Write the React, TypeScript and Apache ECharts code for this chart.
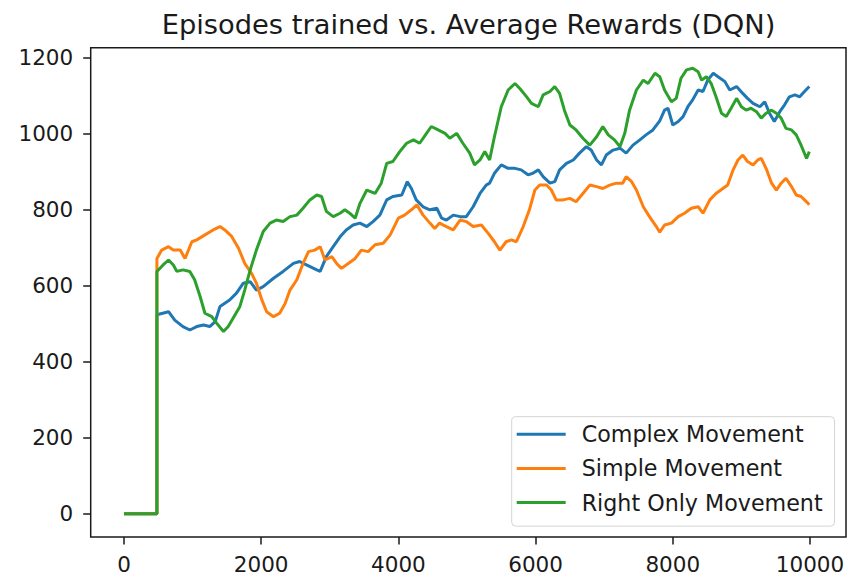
import React, { useEffect, useRef } from "react";
import * as echarts from "echarts";

const titleText = "Episodes trained vs. Average Rewards (DQN)";
const seriesNames = ["Complex Movement", "Simple Movement", "Right Only Movement"];
const xTickValues = [0, 2000, 4000, 6000, 8000, 10000];
const yTickValues = [0, 200, 400, 600, 800, 1000, 1200];

const complexMovement: [number, number][] = [
  [0, 0], [480, 0], [480, 523], [650, 531], [740, 509], [860, 492], [960, 483], [1060, 492],
  [1160, 496], [1250, 492], [1330, 505], [1400, 545], [1540, 562], [1640, 580], [1740, 606],
  [1840, 610], [1930, 588], [2030, 597], [2180, 619], [2320, 637], [2470, 658], [2560, 663],
  [2660, 654], [2810, 641], [2860, 637], [2950, 676], [3050, 702], [3150, 728], [3240, 746],
  [3340, 759], [3440, 764], [3540, 755], [3630, 768], [3730, 785], [3830, 825], [3920, 834],
  [4050, 838], [4130, 873], [4190, 855], [4260, 825], [4360, 807], [4460, 799], [4560, 803],
  [4630, 777], [4700, 772], [4800, 785], [4900, 781], [4990, 781], [5090, 807], [5190, 842],
  [5280, 864], [5330, 869], [5400, 895], [5500, 917], [5600, 908], [5700, 908], [5790, 904],
  [5890, 891], [5960, 895], [6040, 904], [6110, 886], [6210, 869], [6280, 873], [6350, 904],
  [6450, 921], [6550, 930], [6640, 948], [6740, 965], [6810, 956], [6890, 930], [6960, 917],
  [7030, 943], [7130, 956], [7230, 961], [7320, 948], [7420, 969], [7520, 983], [7610, 996],
  [7710, 1009], [7810, 1033], [7880, 1061], [7930, 1066], [8000, 1022], [8080, 1031],
  [8150, 1044], [8220, 1070], [8290, 1088], [8370, 1114], [8440, 1110], [8510, 1140],
  [8590, 1158], [8660, 1149], [8760, 1136], [8830, 1114], [8930, 1123], [9020, 1105],
  [9090, 1092], [9170, 1079], [9270, 1070], [9340, 1083], [9410, 1053], [9480, 1031],
  [9560, 1057], [9630, 1075], [9700, 1096], [9780, 1101], [9850, 1096], [9920, 1110], [9990, 1123],
];

const simpleMovement: [number, number][] = [
  [0, 0], [480, 0], [480, 671], [550, 693], [650, 702], [720, 693], [820, 693], [890, 671],
  [990, 715], [1060, 720], [1180, 733], [1300, 746], [1400, 755], [1470, 746], [1570, 729],
  [1670, 698], [1760, 658], [1860, 632], [1930, 606], [2010, 562], [2080, 531], [2180, 518],
  [2270, 527], [2350, 553], [2420, 588], [2520, 615], [2610, 658], [2690, 689], [2780, 693],
  [2860, 702], [2930, 667], [3030, 676], [3100, 658], [3170, 645], [3270, 658], [3370, 671],
  [3460, 693], [3560, 689], [3660, 707], [3780, 711], [3880, 733], [4000, 777], [4090, 785],
  [4190, 799], [4270, 812], [4360, 785], [4460, 764], [4530, 750], [4600, 764], [4700, 755],
  [4800, 746], [4900, 772], [4990, 768], [5090, 755], [5210, 759], [5310, 737], [5400, 715],
  [5480, 693], [5570, 715], [5650, 720], [5720, 715], [5820, 755], [5910, 799], [5990, 851],
  [6060, 864], [6160, 864], [6230, 851], [6300, 825], [6400, 825], [6500, 829], [6590, 820],
  [6690, 842], [6790, 864], [6890, 860], [6980, 855], [7080, 864], [7180, 869], [7270, 869],
  [7320, 886], [7400, 873], [7470, 851], [7570, 807], [7660, 781], [7760, 755], [7810, 740],
  [7880, 759], [7980, 764], [8080, 781], [8170, 790], [8270, 803], [8370, 807], [8440, 790],
  [8540, 825], [8630, 842], [8730, 855], [8800, 864], [8880, 904], [8950, 930], [9020, 943],
  [9090, 926], [9170, 917], [9240, 930], [9290, 934], [9360, 908], [9440, 869], [9510, 851],
  [9580, 869], [9650, 882], [9730, 860], [9800, 838], [9870, 834], [9950, 820], [9990, 812],
];

const rightOnlyMovement: [number, number][] = [
  [0, 0], [480, 0], [480, 637], [570, 654], [650, 667], [720, 654], [770, 637], [860, 641],
  [960, 637], [1030, 615], [1110, 571], [1180, 527], [1280, 518], [1350, 501], [1450, 479],
  [1520, 492], [1590, 514], [1690, 545], [1760, 588], [1840, 641], [1930, 693], [2030, 742],
  [2130, 764], [2220, 772], [2320, 768], [2420, 781], [2520, 785], [2610, 803], [2710, 825],
  [2810, 838], [2880, 834], [2950, 795], [3050, 781], [3150, 790], [3220, 799], [3290, 790],
  [3370, 777], [3440, 816], [3540, 851], [3660, 842], [3750, 869], [3830, 921], [3920, 926],
  [4020, 952], [4120, 974], [4220, 983], [4310, 974], [4410, 1000], [4480, 1018], [4580, 1009],
  [4680, 1000], [4750, 987], [4850, 1000], [4940, 974], [5040, 948], [5110, 917], [5190, 930],
  [5260, 952], [5330, 930], [5400, 991], [5500, 1070], [5600, 1114], [5700, 1131], [5770, 1118],
  [5870, 1096], [5940, 1079], [6040, 1070], [6110, 1101], [6210, 1110], [6280, 1123], [6350, 1105],
  [6420, 1061], [6500, 1022], [6590, 1009], [6690, 987], [6790, 969], [6890, 991], [6980, 1018],
  [7060, 996], [7150, 983], [7230, 965], [7300, 1000], [7370, 1061], [7470, 1114], [7570, 1140],
  [7640, 1131], [7740, 1158], [7810, 1149], [7880, 1114], [7980, 1083], [8050, 1092], [8120, 1145],
  [8200, 1167], [8290, 1171], [8370, 1162], [8420, 1140], [8490, 1149], [8560, 1131], [8630, 1096],
  [8710, 1053], [8780, 1044], [8850, 1066], [8930, 1092], [9000, 1070], [9070, 1061], [9140, 1066],
  [9220, 1057], [9290, 1040], [9360, 1053], [9440, 1061], [9510, 1053], [9580, 1040], [9650, 1013],
  [9730, 1009], [9800, 996], [9870, 969], [9950, 934], [9990, 952],
];

const colors = ["#1f77b4", "#ff7f0e", "#2ca02c"];
const FONT = "DejaVu Sans";
const INK = "#1a1a1a";

export default function App() {
  const ref = useRef<HTMLDivElement>(null);

  useEffect(() => {
    if (!ref.current) return;
    const chart = echarts.init(ref.current, null, { renderer: "svg" });
    const seriesData = [complexMovement, simpleMovement, rightOnlyMovement];
    const plain = (v: number) => String(v);
    chart.setOption({
      animation: false,
      backgroundColor: "#ffffff",
      textStyle: { fontFamily: FONT },
      graphic: [
        {
          type: "text",
          x: 468.5,
          y: 24.5,
          style: {
            text: titleText,
            fontFamily: FONT,
            fontSize: 27.3,
            fill: INK,
            textAlign: "center",
            textVerticalAlign: "middle",
          },
        },
      ],
      grid: {
        left: 90.7,
        right: 22,
        top: 47.7,
        bottom: 49,
        show: true,
        borderColor: INK,
        borderWidth: 1.5,
        backgroundColor: "transparent",
      },
      legend: {
        orient: "vertical",
        left: 511.7,
        top: 416.7,
        icon: "rect",
        itemWidth: 49,
        itemHeight: 3,
        itemGap: 12.2,
        padding: [6.5, 12, 12.5, 5],
        backgroundColor: "rgba(255,255,255,0.8)",
        borderColor: "#d4d4d4",
        borderWidth: 1,
        borderRadius: 4,
        data: seriesNames,
        textStyle: {
          fontFamily: FONT,
          fontSize: 22.2,
          lineHeight: 22,
          color: INK,
          padding: [0, 0, 0, 11],
        },
      },
      xAxis: {
        type: "value",
        min: -485,
        max: 10525,
        splitLine: { show: false },
        axisLine: { show: false, onZero: false },
        axisTick: {
          show: true,
          length: 7.5,
          customValues: xTickValues,
          lineStyle: { color: INK, width: 1.5 },
        },
        axisLabel: {
          customValues: xTickValues,
          formatter: plain,
          margin: 16,
          fontFamily: FONT,
          fontSize: 21.5,
          color: INK,
        },
      },
      yAxis: {
        type: "value",
        min: -61.3,
        max: 1225.2,
        splitLine: { show: false },
        axisLine: { show: false, onZero: false },
        axisTick: {
          show: true,
          length: 7.5,
          customValues: yTickValues,
          lineStyle: { color: INK, width: 1.5 },
        },
        axisLabel: {
          customValues: yTickValues,
          formatter: plain,
          margin: 17.5,
          fontFamily: FONT,
          fontSize: 21.5,
          color: INK,
        },
      },
      series: seriesNames.map((name, i) => ({
        name,
        type: "line",
        data: seriesData[i],
        showSymbol: false,
        symbol: "none",
        color: colors[i],
        lineStyle: { color: colors[i], width: 3 },
        z: 2 + i,
      })),
    });
    return () => chart.dispose();
  }, []);

  return (
    <div
      ref={ref}
      style={{ position: "fixed", left: 0, top: 0, width: 868, height: 586 }}
    />
  );
}
